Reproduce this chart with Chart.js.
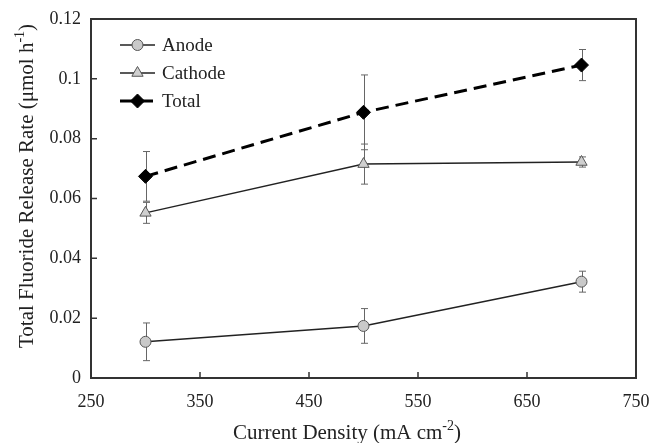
<!DOCTYPE html>
<html>
<head>
<meta charset="utf-8">
<script src="https://cdn.jsdelivr.net/npm/chart.js@4.4.0/dist/chart.umd.min.js"></script>
<style>
  html, body { margin: 0; padding: 0; background: #fff; }
  #wrap { width: 650px; height: 443px; }
</style>
</head>
<body>
<div id="wrap"><canvas id="fluorideChart" width="650" height="443"></canvas></div>
<script>
// current density (mA cm-2)
const currentDensity = [300, 500, 700]
const anode = [0.0121, 0.0174, 0.0322]
const anodeErr = [0.0063, 0.0058, 0.0035]
const cathode = [0.0552, 0.0715, 0.0722]
const cathodeErr = [0.0035, 0.0067, 0.0017]
const total = [0.0674, 0.0888, 0.1046]
const totalErr = [0.0083, 0.0125, 0.0052]
const xTicks = [250, 350, 450, 550, 650, 750]
const yTicks = [0, 0.02, 0.04, 0.06, 0.08, 0.1, 0.12]
const seriesNames = ['Anode', 'Cathode', 'Total']

const serif = '"Liberation Serif", "Times New Roman", serif'
const ink = '#222'

function toPoints(ys) {
  return currentDensity.map((x, i) => ({ x: x, y: ys[i] }))
}

const errors = [anodeErr, cathodeErr, totalErr]

// small marker drawer for the legend (same shapes as the chart points)
function marker(ctx, style, r, x, y) {
  ctx.beginPath()
  if (style === 'circle') {
    ctx.arc(x, y, r, 0, Math.PI * 2)
  } else if (style === 'triangle') {
    const rad = -Math.PI / 2
    ctx.moveTo(x + Math.cos(rad) * r, y + Math.sin(rad) * r)
    ctx.lineTo(x + Math.cos(rad + 2 * Math.PI / 3) * r, y + Math.sin(rad + 2 * Math.PI / 3) * r)
    ctx.lineTo(x + Math.cos(rad + 4 * Math.PI / 3) * r, y + Math.sin(rad + 4 * Math.PI / 3) * r)
  } else {
    ctx.moveTo(x, y - r); ctx.lineTo(x + r, y); ctx.lineTo(x, y + r); ctx.lineTo(x - r, y)
  }
  ctx.closePath()
  ctx.fill()
  ctx.stroke()
}

// error bars, frame, inward ticks, legend and axis titles
const extrasPlugin = {
  id: 'extras',
  beforeDatasetsDraw(chart) {
    const ctx = chart.ctx
    const xs = chart.scales.x, ys = chart.scales.y
    ctx.save()
    ctx.strokeStyle = '#666'
    ctx.lineWidth = 1
    chart.data.datasets.forEach((ds, d) => {
      ds.data.forEach((p, i) => {
        const px = Math.round(xs.getPixelForValue(p.x)) + 0.5
        const top = ys.getPixelForValue(p.y + errors[d][i])
        const bot = ys.getPixelForValue(p.y - errors[d][i])
        ctx.beginPath()
        ctx.moveTo(px, top); ctx.lineTo(px, bot)
        ctx.moveTo(px - 3.5, top); ctx.lineTo(px + 3.5, top)
        ctx.moveTo(px - 3.5, bot); ctx.lineTo(px + 3.5, bot)
        ctx.stroke()
      })
    })
    ctx.restore()
  },
  afterDraw(chart) {
    const ctx = chart.ctx
    const a = chart.chartArea
    const xs = chart.scales.x, ys = chart.scales.y
    ctx.save()
    // frame
    ctx.strokeStyle = '#333'
    ctx.lineWidth = 2
    ctx.strokeRect(a.left, a.top, a.right - a.left, a.bottom - a.top)
    // inward ticks
    ctx.lineWidth = 1.5
    ctx.beginPath()
    xTicks.forEach(v => {
      const px = xs.getPixelForValue(v)
      ctx.moveTo(px, a.bottom); ctx.lineTo(px, a.bottom - 6)
    })
    yTicks.forEach(v => {
      const py = ys.getPixelForValue(v)
      ctx.moveTo(a.left, py); ctx.lineTo(a.left + 6, py)
    })
    ctx.stroke()

    // legend
    const rows = [45, 73, 101]
    chart.data.datasets.forEach((ds, i) => {
      const y = rows[i]
      ctx.save()
      ctx.strokeStyle = ds.borderColor
      ctx.lineWidth = ds.borderWidth
      ctx.setLineDash(ds.borderDash || [])
      ctx.beginPath()
      ctx.moveTo(120, y); ctx.lineTo(155, y)
      ctx.stroke()
      ctx.restore()
      ctx.fillStyle = ds.pointBackgroundColor
      ctx.strokeStyle = ds.pointBorderColor
      ctx.lineWidth = ds.pointBorderWidth
      marker(ctx, ds.pointStyle, ds.pointRadius, 137.5, y)
      ctx.fillStyle = ink
      ctx.font = '19px ' + serif
      ctx.textAlign = 'left'
      ctx.textBaseline = 'middle'
      ctx.fillText(ds.label, 162, y + 1)
    })

    // axis titles with superscripts
    function superText(parts, x, y) {
      // parts: [text, sup, text]
      const big = '21px ' + serif, small = '14px ' + serif
      ctx.font = big
      const w0 = ctx.measureText(parts[0]).width
      const w2 = ctx.measureText(parts[2]).width
      ctx.font = small
      const w1 = ctx.measureText(parts[1]).width
      let cx = x - (w0 + w1 + w2) / 2
      ctx.textAlign = 'left'
      ctx.textBaseline = 'alphabetic'
      ctx.font = big
      ctx.fillText(parts[0], cx, y)
      cx += w0
      ctx.font = small
      ctx.fillText(parts[1], cx, y - 9)
      cx += w1
      ctx.font = big
      ctx.fillText(parts[2], cx, y)
    }
    ctx.fillStyle = ink
    superText(['Current Density (mA cm', '-2', ')'], 347, 439)
    ctx.save()
    ctx.translate(33, 186)
    ctx.rotate(-Math.PI / 2)
    superText(['Total Fluoride Release Rate (\u03bcmol h', '-1', ')'], 0, 0)
    ctx.restore()
    ctx.restore()
  }
}

const config = {
  type: 'line',
  data: {
    datasets: [
      {
        label: seriesNames[0],
        data: toPoints(anode),
        borderColor: ink,
        borderWidth: 1.5,
        pointStyle: 'circle',
        pointRadius: 5.5,
        pointBackgroundColor: '#c9c9c9',
        pointBorderColor: '#555',
        pointBorderWidth: 1
      },
      {
        label: seriesNames[1],
        data: toPoints(cathode),
        borderColor: ink,
        borderWidth: 1.5,
        pointStyle: 'triangle',
        pointRadius: 6.5,
        pointBackgroundColor: '#cfcfcf',
        pointBorderColor: '#555',
        pointBorderWidth: 1
      },
      {
        label: seriesNames[2],
        data: toPoints(total),
        borderColor: '#000',
        borderWidth: 3,
        borderDash: [13, 7],
        pointStyle: 'rectRot',
        pointRadius: 7,
        pointBackgroundColor: '#000',
        pointBorderColor: '#000',
        pointBorderWidth: 1
      }
    ]
  },
  options: {
    responsive: false,
    animation: false,
    layout: { padding: { top: 19, right: 14, left: 0, bottom: 0 } },
    plugins: {
      legend: { display: false },
      tooltip: { enabled: false }
    },
    scales: {
      x: {
        type: 'linear',
        min: 250,
        max: 750,
        afterBuildTicks: s => { s.ticks = xTicks.map(v => ({ value: v })) },
        afterFit: s => { s.height = 65; s.paddingLeft = 0; s.paddingRight = 0 },
        grid: { display: false },
        border: { display: false },
        ticks: { color: ink, font: { family: serif, size: 18 }, padding: 5, maxRotation: 0 }
      },
      y: {
        type: 'linear',
        min: 0,
        max: 0.12,
        afterBuildTicks: s => { s.ticks = yTicks.map(v => ({ value: v })) },
        afterFit: s => { s.width = 91; s.paddingTop = 0; s.paddingBottom = 0 },
        grid: { display: false },
        border: { display: false },
        ticks: {
          color: ink,
          font: { family: serif, size: 18 },
          padding: 2,
          callback: v => String(+v.toFixed(2))
        }
      }
    }
  },
  plugins: [extrasPlugin]
}

const ctx = document.getElementById('fluorideChart').getContext('2d')
new Chart(ctx, config)
</script>
</body>
</html>
